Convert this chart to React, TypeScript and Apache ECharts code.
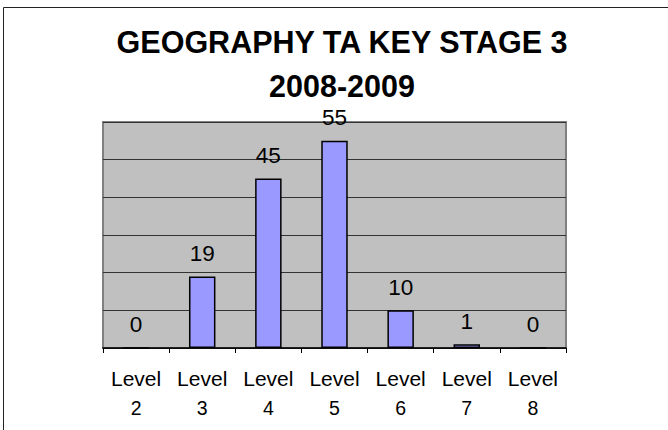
import React, { useEffect, useRef } from "react";
import * as echarts from "echarts";

const categories = ["Level\n2", "Level\n3", "Level\n4", "Level\n5", "Level\n6", "Level\n7", "Level\n8"];
const values = [0, 19, 45, 55, 10, 1, 0];
const titleLines = ["GEOGRAPHY TA KEY STAGE 3", "2008-2009"];
const yMin = 0;
const yMax = 60;
const yInterval = 10;

export default function App() {
  const ref = useRef<HTMLDivElement>(null);
  useEffect(() => {
    if (!ref.current) return;
    const chart = echarts.init(ref.current, null, { renderer: "svg" });
    const font = "Arial, 'Liberation Sans', sans-serif";
    chart.setOption({
      animation: false,
      backgroundColor: "#ffffff",
      textStyle: { fontFamily: font },
      title: {
        text: titleLines[0],
        subtext: titleLines[1],
        left: 342,
        top: 29,
        itemGap: 14,
        textAlign: "center",
        padding: 0,
        textStyle: {
          fontFamily: font,
          fontSize: 30.5,
          fontWeight: "bold",
          color: "#000",
          lineHeight: 26,
        },
        subtextStyle: {
          fontFamily: font,
          fontSize: 30.5,
          fontWeight: "bold",
          color: "#000",
          lineHeight: 24,
        },
      },
      graphic: [
        {
          type: "rect",
          shape: { x: 3.5, y: 7.5, width: 700, height: 500 },
          style: { fill: "none", stroke: "#222", lineWidth: 1 },
          silent: true,
          z: 100,
        },
      ],
      grid: {
        left: 103,
        right: 102,
        top: 122,
        bottom: 82,
        show: true,
        backgroundColor: "#C0C0C0",
        borderColor: "#808080",
        borderWidth: 2,
      },
      xAxis: {
        type: "category",
        data: categories,
        axisLine: { show: true, lineStyle: { color: "#000", width: 1.5 } },
        axisTick: { show: true, length: 5, lineStyle: { color: "#000", width: 1 } },
        axisLabel: {
          color: "#000",
          fontFamily: font,
          margin: 15,
          interval: 0,
          formatter: (v: string) => {
            const parts = v.split("\n");
            return `{a|${parts[0]}}\n{b|${parts[1]}}`;
          },
          rich: {
            a: { fontSize: 21, lineHeight: 30, color: "#000", fontFamily: font },
            b: { fontSize: 19.5, lineHeight: 30, color: "#000", fontFamily: font },
          },
        },
      },
      yAxis: {
        type: "value",
        min: yMin,
        max: yMax,
        interval: yInterval,
        axisLine: { show: false },
        axisTick: { show: false },
        axisLabel: { show: false },
        splitLine: { show: true, lineStyle: { color: "#333", width: 1 } },
      },
      series: [
        {
          type: "bar",
          data: values,
          barWidth: "40%",
          itemStyle: { color: "#9999FF", borderColor: "#000", borderWidth: 1.5 },
          label: {
            show: true,
            position: "top",
            distance: 13,
            color: "#000",
            fontSize: 22.5,
            lineHeight: 20,
            fontFamily: font,
          },
        },
      ],
    });
    return () => chart.dispose();
  }, []);
  return <div ref={ref} style={{ width: 668, height: 430, position: "absolute", left: 0, top: 0 }} />;
}
